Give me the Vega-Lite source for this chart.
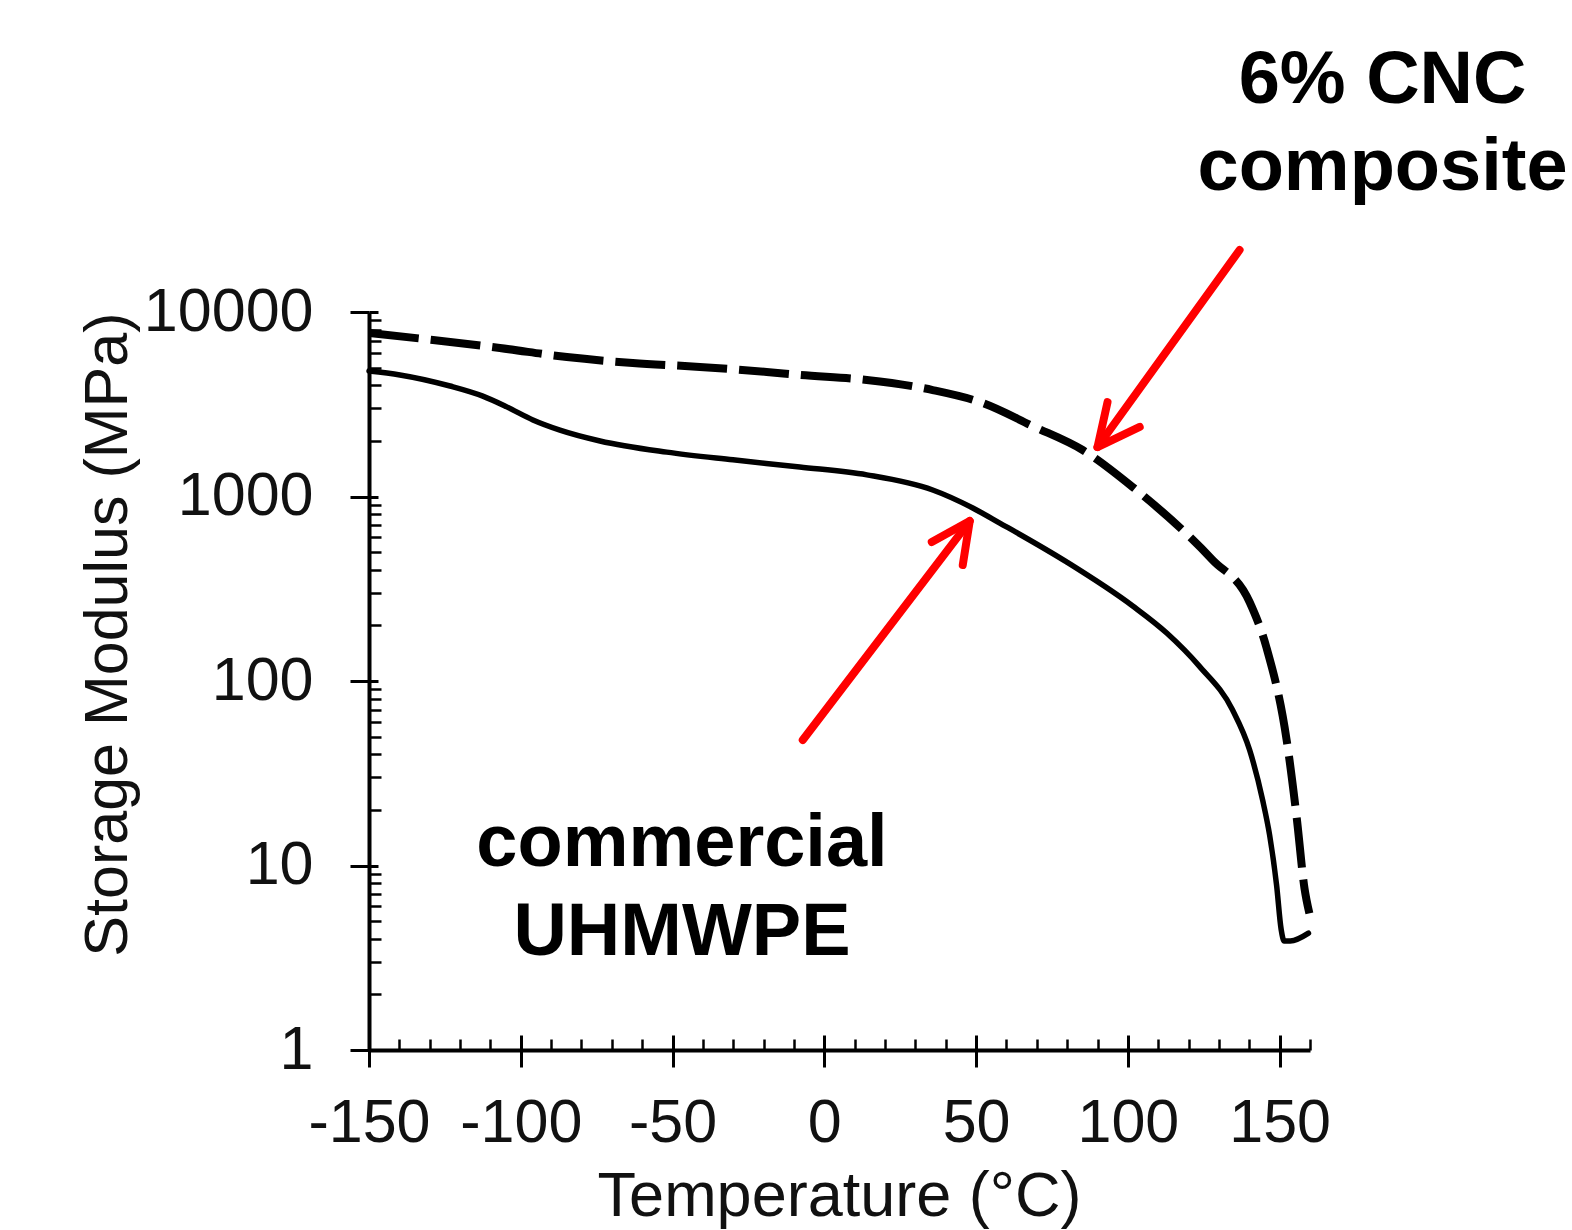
{
  "$schema": "https://vega.github.io/schema/vega-lite/v6.json",
  "width": 941,
  "height": 738,
  "autosize": {"type": "none"},
  "padding": {"left": 369, "top": 312, "right": 262, "bottom": 180},
  "background": "white",
  "config": {"view": {"stroke": null}, "axis": {"grid": false}},
  "datasets": {
    "curves": [
      {"series": "UHMWPE", "T": -150, "E": 4790},
      {"series": "UHMWPE", "T": -139.8, "E": 4560},
      {"series": "UHMWPE", "T": -123.3, "E": 3970},
      {"series": "UHMWPE", "T": -112.5, "E": 3500},
      {"series": "UHMWPE", "T": -104.6, "E": 3060},
      {"series": "UHMWPE", "T": -96, "E": 2600},
      {"series": "UHMWPE", "T": -87.1, "E": 2290},
      {"series": "UHMWPE", "T": -73.9, "E": 2000},
      {"series": "UHMWPE", "T": -51.9, "E": 1740},
      {"series": "UHMWPE", "T": -30.1, "E": 1580},
      {"series": "UHMWPE", "T": -8.1, "E": 1445},
      {"series": "UHMWPE", "T": 14, "E": 1310},
      {"series": "UHMWPE", "T": 35.7, "E": 1085},
      {"series": "UHMWPE", "T": 48.9, "E": 867},
      {"series": "UHMWPE", "T": 57.8, "E": 718},
      {"series": "UHMWPE", "T": 79.8, "E": 442},
      {"series": "UHMWPE", "T": 101.6, "E": 255},
      {"series": "UHMWPE", "T": 112.8, "E": 182},
      {"series": "UHMWPE", "T": 123.6, "E": 120},
      {"series": "UHMWPE", "T": 134.5, "E": 69.6},
      {"series": "UHMWPE", "T": 140.1, "E": 42.3},
      {"series": "UHMWPE", "T": 144.4, "E": 22.6},
      {"series": "UHMWPE", "T": 146.7, "E": 14.6},
      {"series": "UHMWPE", "T": 149, "E": 7.8},
      {"series": "UHMWPE", "T": 150.5, "E": 4.5},
      {"series": "UHMWPE", "T": 151.5, "E": 3.9},
      {"series": "UHMWPE", "T": 153.5, "E": 3.9},
      {"series": "UHMWPE", "T": 159.5, "E": 4.3},
      {"series": "CNC", "T": -150, "E": 7690},
      {"series": "CNC", "T": -128.9, "E": 7050},
      {"series": "CNC", "T": -106.9, "E": 6380},
      {"series": "CNC", "T": -84.8, "E": 5700},
      {"series": "CNC", "T": -63.1, "E": 5290},
      {"series": "CNC", "T": -41, "E": 5040},
      {"series": "CNC", "T": -19, "E": 4730},
      {"series": "CNC", "T": -8.1, "E": 4560},
      {"series": "CNC", "T": 14, "E": 4280},
      {"series": "CNC", "T": 35.7, "E": 3775},
      {"series": "CNC", "T": 52.2, "E": 3210},
      {"series": "CNC", "T": 68.6, "E": 2410},
      {"series": "CNC", "T": 85.1, "E": 1786},
      {"series": "CNC", "T": 101.6, "E": 1125},
      {"series": "CNC", "T": 127.9, "E": 453},
      {"series": "CNC", "T": 140.1, "E": 268},
      {"series": "CNC", "T": 145.7, "E": 151},
      {"series": "CNC", "T": 152.3, "E": 47.9},
      {"series": "CNC", "T": 155.6, "E": 18.3},
      {"series": "CNC", "T": 158.2, "E": 7.5},
      {"series": "CNC", "T": 159.8, "E": 5.5}
    ],
    "arrows": [
      {"seg": "a1shaft", "o": 1, "T": 136.8, "E": 21680},
      {"seg": "a1shaft", "o": 2, "T": 90.0, "E": 1854},
      {"seg": "a1head", "o": 1, "T": 93.3, "E": 3251},
      {"seg": "a1head", "o": 2, "T": 90.0, "E": 1854},
      {"seg": "a1head", "o": 3, "T": 103.9, "E": 2382},
      {"seg": "a2shaft", "o": 1, "T": -7.1, "E": 47.9},
      {"seg": "a2shaft", "o": 2, "T": 47.9, "E": 736},
      {"seg": "a2head", "o": 1, "T": 35.4, "E": 566},
      {"seg": "a2head", "o": 2, "T": 47.9, "E": 736},
      {"seg": "a2head", "o": 3, "T": 45.6, "E": 425}
    ],
    "labels": [
      {"label": "6% CNC", "T": 183.9, "E": 135800},
      {"label": "composite", "T": 183.9, "E": 45800},
      {"label": "commercial", "T": -46.9, "E": 9.94},
      {"label": "UHMWPE", "T": -46.9, "E": 3.27}
    ]
  },
  "resolve": {"axis": {"x": "independent", "y": "independent"}},
  "layer": [
    {
      "data": {"name": "curves"},
      "transform": [{"filter": "datum.series === 'UHMWPE'"}],
      "mark": {"type": "line", "color": "black", "strokeWidth": 5.5, "strokeJoin": "round", "strokeCap": "round", "interpolate": "monotone"},
      "encoding": {
        "x": {
          "field": "T", "type": "quantitative",
          "scale": {"domain": [-150, 160], "nice": false, "zero": false},
          "axis": {
            "orient": "bottom", "values": [-150, -100, -50, 0, 50, 100, 150],
            "labelExpr": "'' + datum.value",
            "tickSize": 17, "tickWidth": 3, "tickColor": "black",
            "domainColor": "black", "domainWidth": 4,
            "labelFont": "Liberation Sans", "labelFontSize": 61, "labelColor": "#111",
            "labelPadding": 26, "labelFlush": false, "labelOverlap": false,
            "title": "Temperature (°C)", "titleFont": "Liberation Sans", "titleFontSize": 63,
            "titleFontWeight": "normal", "titleColor": "#111",
            "titleX": 470, "titleY": 165, "titleAlign": "center", "titleBaseline": "alphabetic"
          }
        },
        "y": {
          "field": "E", "type": "quantitative",
          "scale": {"type": "log", "domain": [1, 10000], "nice": false},
          "axis": {
            "orient": "left", "values": [1, 10, 100, 1000, 10000],
            "labelExpr": "'' + datum.value",
            "tickSize": 19, "tickWidth": 3, "tickColor": "black",
            "domainColor": "black", "domainWidth": 4,
            "labelFont": "Liberation Sans", "labelFontSize": 61, "labelColor": "#111",
            "labelPadding": 37, "labelFlush": false, "labelOverlap": false,
            "title": "Storage Modulus (MPa)", "titleFont": "Liberation Sans", "titleFontSize": 61,
            "titleFontWeight": "normal", "titleColor": "#111",
            "titleAngle": -90, "titleX": -243, "titleY": 0, "titleAlign": "right", "titleBaseline": "alphabetic"
          }
        }
      }
    },
    {
      "data": {"name": "curves"},
      "transform": [{"filter": "datum.series === 'CNC'"}],
      "mark": {"type": "line", "color": "black", "strokeWidth": 8, "strokeDash": [50, 12], "strokeJoin": "round", "interpolate": "monotone"},
      "encoding": {
        "x": {
          "field": "T", "type": "quantitative",
          "scale": {"domain": [-150, 160], "nice": false, "zero": false},
          "axis": {
            "orient": "bottom",
            "values": [-140, -130, -120, -110, -90, -80, -70, -60, -40, -30, -20, -10, 10, 20, 30, 40, 60, 70, 80, 90, 110, 120, 130, 140, 160],
            "tickSize": -11, "tickWidth": 2.5, "tickColor": "black",
            "labels": false, "domain": false, "title": null
          }
        },
        "y": {
          "field": "E", "type": "quantitative",
          "scale": {"type": "log", "domain": [1, 10000], "nice": false},
          "axis": {
            "orient": "left",
            "values": [2, 3, 4, 5, 6, 7, 8, 9, 20, 30, 40, 50, 60, 70, 80, 90, 200, 300, 400, 500, 600, 700, 800, 900, 2000, 3000, 4000, 5000, 6000, 7000, 8000, 9000],
            "tickSize": -12, "tickWidth": 2.5, "tickColor": "black",
            "labels": false, "domain": false, "title": null
          }
        }
      }
    },
    {
      "data": {"name": "arrows"},
      "mark": {"type": "line", "color": "#ff0000", "strokeWidth": 8, "strokeCap": "round", "strokeJoin": "round", "clip": false},
      "encoding": {
        "x": {
          "field": "T", "type": "quantitative",
          "scale": {"domain": [-150, 160], "nice": false, "zero": false},
          "axis": {
            "orient": "bottom", "values": [-150, -100, -50, 0, 50, 100, 150],
            "tickSize": -15, "tickWidth": 3, "tickColor": "black",
            "labels": false, "domain": false, "title": null
          }
        },
        "y": {
          "field": "E", "type": "quantitative",
          "scale": {"type": "log", "domain": [1, 10000], "nice": false},
          "axis": {
            "orient": "left", "values": [1, 10, 100, 1000, 10000],
            "tickSize": -9, "tickWidth": 3, "tickColor": "black",
            "labels": false, "domain": false, "title": null
          }
        },
        "detail": {"field": "seg", "type": "nominal"},
        "order": {"field": "o", "type": "quantitative"}
      }
    },
    {
      "data": {"name": "labels"},
      "mark": {"type": "text", "font": "Liberation Sans", "fontWeight": "bold", "fontSize": 74, "align": "center", "baseline": "alphabetic", "color": "black", "clip": false},
      "encoding": {
        "x": {"field": "T", "type": "quantitative", "scale": {"domain": [-150, 160], "nice": false, "zero": false}, "axis": null},
        "y": {"field": "E", "type": "quantitative", "scale": {"type": "log", "domain": [1, 10000], "nice": false}, "axis": null},
        "text": {"field": "label", "type": "nominal"}
      }
    }
  ]
}
